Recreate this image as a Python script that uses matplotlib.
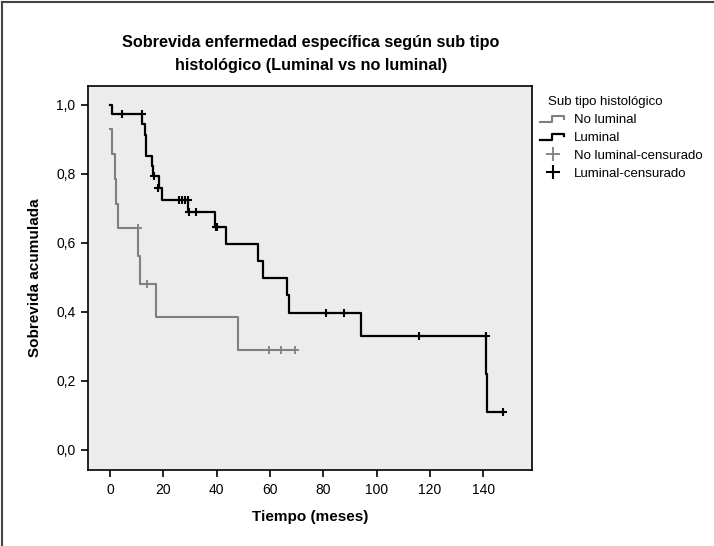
import matplotlib
matplotlib.use("Agg")
import matplotlib.pyplot as plt
from matplotlib.lines import Line2D
from matplotlib.legend_handler import HandlerBase

plt.rcParams['font.family'] = ['Liberation Sans', 'DejaVu Sans']

# Survival steps (time in months, cumulative survival)
lum_t = [0, 0.7, 11.9, 13.1, 13.4, 15.6, 16.2, 18.4, 19.6, 29.4, 39.4, 43.4,
         55.6, 57.2, 66.2, 67.1, 94.0, 141.0, 141.5, 147.5]
lum_s = [1.0, 0.974, 0.944, 0.913, 0.852, 0.823, 0.794, 0.760, 0.726, 0.689,
         0.646, 0.597, 0.548, 0.498, 0.449, 0.398, 0.330, 0.220, 0.109, 0.109]
lum_cens_t = [4.6, 11.9, 16.6, 18.1, 26.0, 27.0, 28.0, 29.2, 29.7, 32.2,
              39.7, 40.1, 81.0, 87.8, 115.9, 141.0, 147.5]
lum_cens_s = [0.974, 0.974, 0.794, 0.760, 0.726, 0.726, 0.726, 0.726, 0.689,
              0.689, 0.646, 0.646, 0.398, 0.398, 0.330, 0.330, 0.109]

nolum_t = [0, 0.7, 1.9, 2.2, 3.1, 10.4, 11.25, 17.1, 48.1, 69.5]
nolum_s = [0.929, 0.857, 0.786, 0.714, 0.643, 0.5625, 0.482, 0.386, 0.289, 0.289]
nolum_cens_t = [10.4, 13.7, 59.7, 64.2, 69.5]
nolum_cens_s = [0.643, 0.482, 0.289, 0.289, 0.289]

yticks = [0.0, 0.2, 0.4, 0.6, 0.8, 1.0]
xticks = [0, 20, 40, 60, 80, 100, 120, 140]

GREY = '#7f7f7f'
BLACK = '#000000'


class HandlerStep(HandlerBase):
    # small step glyph like the SPSS legend
    def create_artists(self, legend, orig_handle, xdescent, ydescent,
                       width, height, fontsize, trans):
        x0 = -xdescent
        y0 = -ydescent + height * 0.1
        y1 = -ydescent + height * 0.8
        xs = [x0, x0 + width * 0.45, x0 + width * 0.45, x0 + width * 0.9, x0 + width * 0.9]
        ys = [y0, y0, y1, y1, y1 - height * 0.3]
        ln = Line2D(xs, ys, color=orig_handle.get_color(),
                    lw=orig_handle.get_linewidth(), transform=trans)
        return [ln]


fig = plt.figure(figsize=(7.14, 5.46), dpi=100)
ax = fig.add_axes([88 / 714, 76 / 546, 444 / 714, 384 / 546])
ax.set_facecolor('#ebeceb')

l1, = ax.step(nolum_t, nolum_s, where='post', color=GREY, lw=1.5)
l2, = ax.step(lum_t, lum_s, where='post', color=BLACK, lw=1.6)
c1, = ax.plot(nolum_cens_t, nolum_cens_s, ls='none', marker='+', ms=6,
              mew=1.3, color=GREY)
c2, = ax.plot(lum_cens_t, lum_cens_s, ls='none', marker='+', ms=6,
              mew=1.5, color=BLACK)

ax.set_xlim(-8.25, 158.2)
ax.set_ylim(-0.058, 1.055)
ax.set_xticks(xticks)
ax.set_xticklabels([str(v) for v in xticks])
ax.set_yticks(yticks)
ax.set_yticklabels([f"{v:.1f}".replace('.', ',') for v in yticks])
ax.tick_params(direction='out', length=5, width=1.2, labelsize=10, pad=4)
for sp in ax.spines.values():
    sp.set_linewidth(1.2)

ax.set_xlabel('Tiempo (meses)', fontsize=11, fontweight='bold', labelpad=10)
ax.set_ylabel('Sobrevida acumulada', fontsize=11, fontweight='bold', labelpad=10)

fig.text(311 / 714, 1 - 54 / 546,
         'Sobrevida enfermedad específica según sub tipo\nhistológico (Luminal vs no luminal)',
         ha='center', va='center', fontsize=11.7, fontweight='bold', linespacing=1.6)

# legend title placed separately to get the gap seen in the reference
fig.text(548 / 714, 1 - 102 / 546, 'Sub tipo histológico', ha='left',
         va='center', fontsize=9.5)
leg = fig.legend([l1, l2, c1, c2],
                 ['No luminal', 'Luminal', 'No luminal-censurado', 'Luminal-censurado'],
                 handler_map={l1: HandlerStep(), l2: HandlerStep()},
                 loc='upper left', bbox_to_anchor=(540 / 714, 1 - 114 / 546),
                 frameon=False, fontsize=9.5, handlelength=2.0, handletextpad=0.6,
                 labelspacing=0.42, borderaxespad=0, borderpad=0, markerscale=1.6)

# outer frame of the figure
fig.add_artist(Line2D([0.003, 0.003], [0, 0.997], color='#444444', lw=1.5,
                      transform=fig.transFigure))
fig.add_artist(Line2D([0.003, 1], [0.997, 0.997], color='#444444', lw=1.5,
                      transform=fig.transFigure))

fig.savefig('out.png', dpi=100, facecolor='white')
